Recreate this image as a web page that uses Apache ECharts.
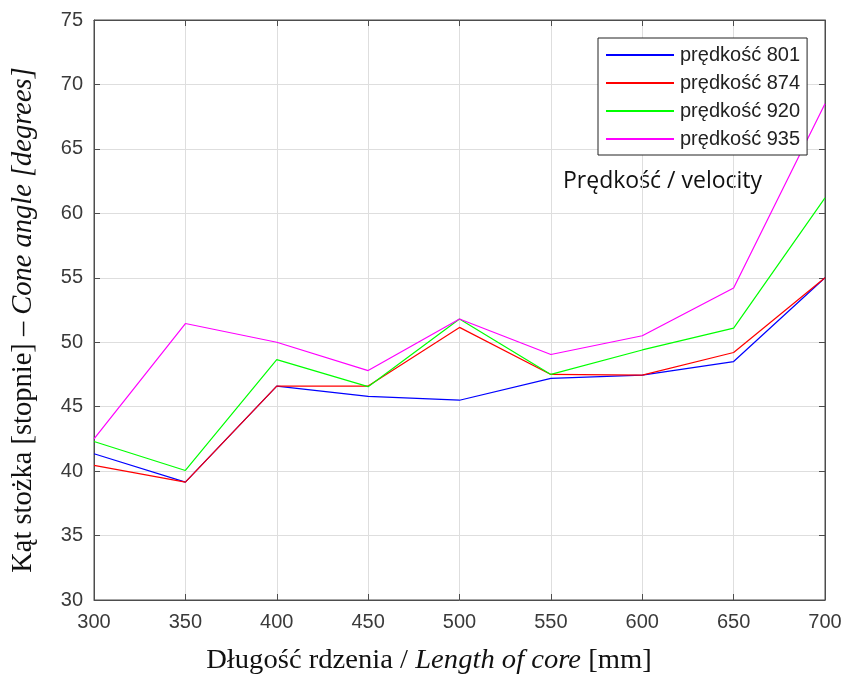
<!DOCTYPE html>
<html><head><meta charset="utf-8">
<script src="https://cdn.jsdelivr.net/npm/echarts@6/dist/echarts.min.js"></script>
<style>html,body{margin:0;padding:0;background:#fff}#c{width:847px;height:675px}</style>
</head><body><div id="c"></div>
<script>
const lengths = [300, 350, 400, 450, 500, 550, 600, 650, 700];
const v801 = [41.35, 39.15, 46.6, 45.8, 45.5, 47.2, 47.45, 48.5, 55.0];
const v874 = [40.45, 39.15, 46.6, 46.6, 51.15, 47.5, 47.45, 49.2, 55.0];
const v920 = [42.3, 40.05, 48.65, 46.55, 51.8, 47.5, 49.4, 51.1, 61.2];
const v935 = [42.5, 51.45, 50.0, 47.8, 51.8, 49.05, 50.5, 54.2, 68.5];
const seriesNames = ['prędkość 801', 'prędkość 874', 'prędkość 920', 'prędkość 935'];
const colors = ['#0000ff', '#ff0000', '#00ff00', '#ff00ff'];
const allValues = [v801, v874, v920, v935];

const chart = echarts.init(document.getElementById('c'), null, {renderer: 'canvas'});
const tickFont = {fontFamily: 'Liberation Sans, Arial, sans-serif', fontSize: 20, color: '#3a3a3a'};
const serif = 'Liberation Serif, Times New Roman, serif';
const mkRich = (fs) => ({
  n: {fontFamily: serif, fontSize: fs, fill: '#111', color: '#111'},
  i: {fontFamily: serif, fontSize: fs, fontStyle: 'italic', fill: '#111', color: '#111'}
});
chart.setOption({
  animation: false,
  backgroundColor: '#fff',
  grid: {left: 94, right: 22, top: 20, bottom: 75, show: true, borderColor: '#4d4d4d', borderWidth: 1},
  legend: {
    orient: 'vertical', left: 598, top: 38,
    padding: [7, 7, 6, 8],
    backgroundColor: '#fff', borderColor: '#222', borderWidth: 1,
    itemWidth: 68, itemHeight: 2, itemGap: 8, icon: 'rect',
    textStyle: {fontFamily: 'Liberation Sans, Arial, sans-serif', fontSize: 20, lineHeight: 20, color: '#222', padding: [0, 0, 0, 1]},
    data: seriesNames
  },
  graphic: [{
    type: 'text', x: 563, y: 181,
    style: {text: 'Prędkość / velocity', font: '23px "Open Sans", "Noto Sans", sans-serif', fill: '#111', textVerticalAlign: 'middle'}
  }, {
    type: 'text', x: 429, y: 661, scaleX: 1.06,
    style: {text: '{n|Długość rdzenia / }{i|Length of core}{n| [mm]}', rich: mkRich(27), align: 'center', verticalAlign: 'middle'}
  }, {
    type: 'text', x: 24, y: 320, rotation: Math.PI / 2,
    style: {text: '{n|Kąt stożka [stopnie] – }{i|Cone angle [degrees]}', rich: mkRich(28.5), align: 'center', verticalAlign: 'middle'}
  }],
  xAxis: [{
    type: 'value', min: 300, max: 700, interval: 50,
    axisLine: {lineStyle: {color: '#4d4d4d'}},
    axisTick: {inside: true, length: 6, lineStyle: {color: '#4d4d4d'}},
    axisLabel: Object.assign({margin: 12}, tickFont),
    splitLine: {lineStyle: {color: '#dedede'}}
  }, {
    type: 'value', min: 300, max: 700, interval: 50, position: 'top',
    axisLine: {show: true, lineStyle: {color: '#4d4d4d'}},
    axisTick: {show: true, inside: true, length: 6, lineStyle: {color: '#4d4d4d'}},
    axisLabel: {show: false}, splitLine: {show: false}
  }],
  yAxis: [{
    type: 'value', min: 30, max: 75, interval: 5,
    axisLine: {show: true, lineStyle: {color: '#4d4d4d'}},
    axisTick: {show: true, inside: true, length: 6, lineStyle: {color: '#4d4d4d'}},
    axisLabel: Object.assign({margin: 11}, tickFont),
    splitLine: {lineStyle: {color: '#dedede'}}
  }, {
    type: 'value', min: 30, max: 75, interval: 5, position: 'right',
    axisLine: {show: true, lineStyle: {color: '#4d4d4d'}},
    axisTick: {show: true, inside: true, length: 6, lineStyle: {color: '#4d4d4d'}},
    axisLabel: {show: false}, splitLine: {show: false}
  }],
  series: allValues.map((vals, k) => ({
    name: seriesNames[k], type: 'line', symbol: 'none',
    color: colors[k],
    lineStyle: {width: 1.2, color: colors[k]},
    data: lengths.map((x, i) => [x, vals[i]])
  }))
});
</script></body></html>
